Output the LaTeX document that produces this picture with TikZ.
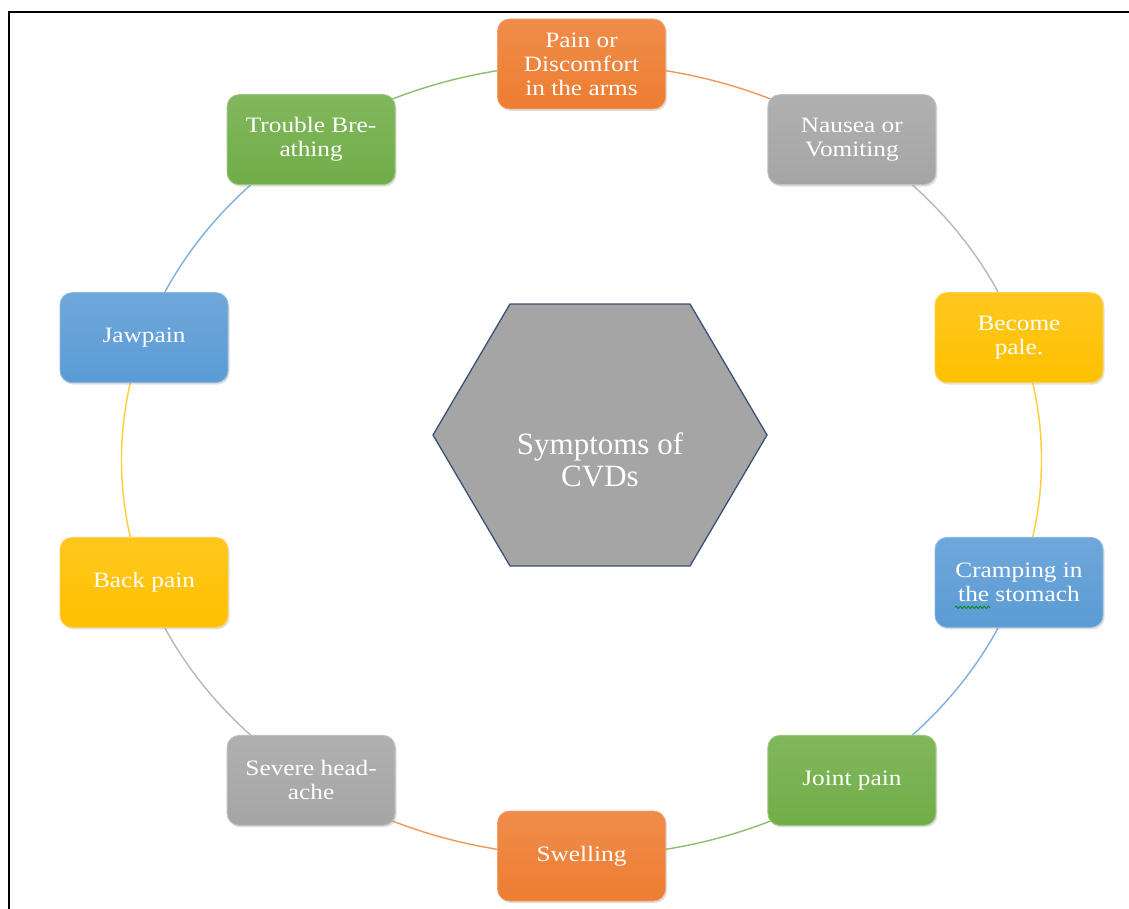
\documentclass[tikz,border=0pt]{standalone}
\usepackage{fontspec}
\setmainfont{Liberation Serif}
\newfontfamily\boxfont[FakeStretch=1.15]{Liberation Serif}
\usetikzlibrary{calc,shadows,backgrounds,decorations.pathmorphing}

\definecolor{cOrange}{HTML}{ED7D31}
\definecolor{cGray}{HTML}{A5A5A5}
\definecolor{cYellow}{HTML}{FFC000}
\definecolor{cBlue}{HTML}{5B9BD5}
\definecolor{cGreen}{HTML}{70AD47}
\definecolor{hexEdge}{HTML}{3A5276}

\tikzset{
  symptom/.style={shape=rectangle, rounded corners=12pt,
    minimum width=168pt, minimum height=90pt, inner sep=0pt, align=center,
    draw=#1!70!white, line width=0.8pt,
    top color=#1!88!white, bottom color=#1,
    text=white, font=\boxfont\fontsize{22}{24}\selectfont,
    drop shadow={opacity=0.25, shadow xshift=1.5pt, shadow yshift=-2pt}},
  ring/.style={draw=#1!80!white, line width=1.4pt},
  hexagon/.style={fill=cGray, draw=hexEdge, line width=1.3pt, line join=miter},
  hubtext/.style={align=center, text=white, inner sep=0pt,
    font=\fontsize{31}{32}\selectfont},
  frameline/.style={draw=black, line width=2pt},
  spellmark/.style={draw=green!55!black, line width=0.8pt,
    decorate, decoration={snake, amplitude=1.2pt, segment length=4pt}}
}

\begin{document}
\begin{tikzpicture}[x=1pt, y=1pt]
  \useasboundingbox (0,0) rectangle (1129,-909);

  % page frame: top and left rules
  \coordinate (frameTR) at (1129,-12.5);
  \coordinate (frameTL) at (9,-12.5);
  \coordinate (frameBL) at (9,-909);
  \draw[frameline] (frameTR) -- (frameTL) -- (frameBL);

  % centre of the ring of symptoms
  \coordinate (ringc) at (581.5,-460);

  \node[symptom=cOrange] (pain)    at ($(ringc)+(90:460pt and 396pt)$)   {Pain or\\Discomfort\\in the arms};
  \node[symptom=cGray]   (nausea)  at ($(ringc)+(54:460pt and 396pt)$)   {Nausea or\\Vomiting};
  \node[symptom=cYellow] (pale)    at ($(ringc)+(18:460pt and 396pt)$)   {Become\\pale.};
  \node[symptom=cBlue]   (cramp)   at ($(ringc)+(-18:460pt and 396pt)$)  {Cramping in\\the stomach};
  \node[symptom=cGreen]  (joint)   at ($(ringc)+(-54:460pt and 396pt)$)  {Joint pain};
  \node[symptom=cOrange] (swell)   at ($(ringc)+(-90:460pt and 396pt)$)  {Swelling};
  \node[symptom=cGray]   (head)    at ($(ringc)+(-126:460pt and 396pt)$) {Severe head-\\ache};
  \node[symptom=cYellow] (back)    at ($(ringc)+(-162:460pt and 396pt)$) {Back pain};
  \node[symptom=cBlue]   (jaw)     at ($(ringc)+(162:460pt and 396pt)$)  {Jawpain};
  \node[symptom=cGreen]  (breath)  at ($(ringc)+(126:460pt and 396pt)$)  {Trouble Bre-\\athing};

  % wavy underline under "the"
  \draw[spellmark] ($(cramp.center)+(-64,-25)$) -- ($(cramp.center)+(-29,-25)$);

  % arcs of the ring, each in the colour of the node it leaves
  \begin{scope}[on background layer]
    \foreach \from/\ang/\col in {pain/90/cOrange, nausea/54/cGray, pale/18/cYellow,
        cramp/-18/cBlue, joint/-54/cGreen, swell/-90/cOrange, head/-126/cGray,
        back/-162/cYellow, jaw/162/cBlue, breath/126/cGreen}
      \draw[ring=\col] (\from.center) arc[start angle=\ang, end angle=\ang-36,
          x radius=460pt, y radius=396pt];
  \end{scope}

  % central hexagon
  \coordinate (hexc) at (600,-435);
  \draw[hexagon] ($(hexc)+(-167,0)$) -- ($(hexc)+(-90,131)$) -- ($(hexc)+(90,131)$)
    -- ($(hexc)+(167,0)$) -- ($(hexc)+(90,-131)$) -- ($(hexc)+(-90,-131)$) -- cycle;
  \node[hubtext] (hub) at (600,-460) {Symptoms of\\CVDs};
\end{tikzpicture}
\end{document}
